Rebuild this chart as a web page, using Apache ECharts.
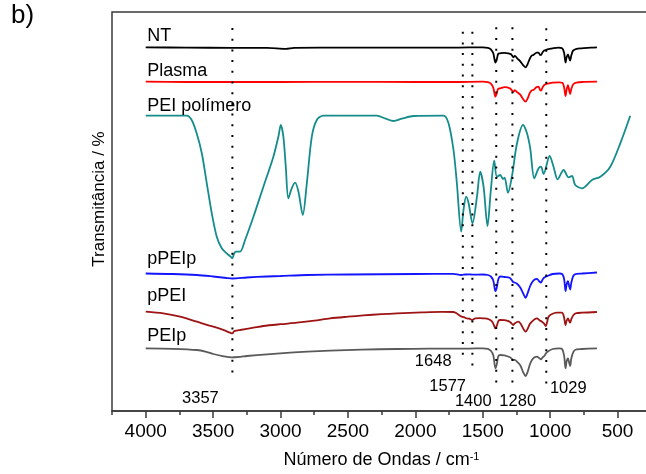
<!DOCTYPE html>
<html><head><meta charset="utf-8">
<script src="https://cdn.jsdelivr.net/npm/echarts@6/dist/echarts.min.js"></script>
<style>html,body{margin:0;padding:0;background:#fff}#c{width:646px;height:474px}</style>
</head><body><div id="c"></div>
<script>
// ---- data (wavenumber cm-1, downward deviation of each trace from its own baseline, arbitrary units) ----
const seriesNames = ['NT', 'Plasma', 'PEI polímero', 'pPEIp', 'pPEI', 'PEIp'];
const seriesOffsets = [363.7, 329.3, 295.3, 137.5, 99.3, 62.7];

const ntDip = [[4000,0],[3700,0.3],[3357,0.5],[3100,0.5],[2960,1.5],[2900,0.5],[2500,0.3],[2000,0.3],[1700,0.3],[1500,0],[1462,0.5],[1440,2],[1422,6],[1406,15.3],[1396,12],[1385,6.5],[1370,6],[1340,5.5],[1310,6],[1290,7],[1272,10],[1262,8.5],[1245,11],[1222,14],[1200,18],[1183,20],[1168,17],[1150,11],[1135,8],[1124,7.7],[1100,5.3],[1087,5.3],[1076,7.5],[1068,7.7],[1056,5],[1044,3.3],[1020,2],[982,1],[940,0.3],[910,1],[896,6],[886,15.3],[878,10],[868,7],[860,10.5],[852,13.3],[843,8],[830,3.3],[805,1.5],[764,1],[700,0.3],[653,0]];

const plasmaDip = [[4000,0],[3700,0.3],[3357,0.3],[3000,0.3],[2500,0.2],[2000,0.3],[1700,0.3],[1500,0],[1462,0.5],[1440,2],[1422,6],[1406,15],[1396,11.5],[1385,7],[1370,6.7],[1340,5.5],[1298,6.7],[1272,10],[1262,8.5],[1245,10.5],[1222,13],[1200,17.5],[1183,20],[1168,17],[1150,11],[1135,8.5],[1124,8.3],[1100,5.3],[1087,5],[1076,8],[1068,9],[1056,5.5],[1044,3.3],[1020,2],[982,1],[933,0.7],[910,1],[896,6],[886,14.3],[878,8],[868,3.5],[860,8],[852,12.3],[843,7],[827,2.3],[805,1],[764,0.3],[653,0]];

const peiPolimeroDip = [[4000,0],[3696,0],[3659,4.3],[3622,17.6],[3584,37.6],[3547,67.6],[3510,97.6],[3473,121],[3436,132.6],[3399,137.6],[3370,141],[3357,142.6],[3345,138],[3330,136],[3300,136],[3263,124.3],[3201,101],[3127,71],[3053,41],[3016,21],[2998,9.3],[2979,21],[2961,51],[2942,82.6],[2917,72.6],[2892,67],[2867,76],[2835,99.3],[2805,67.6],[2768,21],[2731,4.3],[2682,0],[2286,0],[2220,3],[2162,5.3],[2100,3],[2014,0.3],[1791,0],[1754,7.6],[1717,34.3],[1692,67.6],[1660,116],[1643,94.3],[1623,81],[1605,87.6],[1576,107.6],[1543,81],[1519,56],[1494,71],[1465,110.3],[1440,74.3],[1415,45],[1395,61],[1370,59.3],[1350,63.3],[1338,62],[1313,77],[1284,61],[1246,27.6],[1202,9.3],[1172,17.6],[1148,32.6],[1118,62.6],[1086,52.6],[1068,51],[1049,58.3],[1004,40.3],[975,51],[945,63.6],[900,54.3],[864,61.6],[838,60.3],[814,69.3],[764,72.6],[690,64.3],[628,61],[554,51],[480,27.6],[406,0]];

const pPEIpDip = [[4000,0],[3800,0.5],[3620,1.5],[3500,3],[3400,4.5],[3357,5],[3250,4],[3100,3],[3000,2.5],[2800,1.5],[2500,1],[2000,0.5],[1720,0.3],[1660,1.5],[1630,1],[1600,0.8],[1577,1.2],[1500,1],[1462,1.5],[1440,3],[1422,7],[1406,17.7],[1396,14],[1385,6],[1370,3],[1340,3.5],[1298,4.5],[1275,8.5],[1265,9],[1248,10],[1222,14],[1200,20],[1183,24.3],[1168,20],[1150,13],[1135,9],[1115,6],[1098,5.4],[1080,8],[1069,9],[1056,6],[1044,4],[1020,2.5],[982,0.5],[933,0],[910,0.7],[896,6],[886,17.7],[878,11],[868,7.7],[860,12],[852,16],[843,9],[827,2],[805,0.3],[764,0],[653,-1]];

const pPEIDip = [[4000,0],[3870,1.7],[3745,5],[3621,10],[3498,15],[3420,18.5],[3374,21],[3357,21.7],[3345,19.5],[3320,18.7],[3300,18.3],[3200,16],[3127,14.3],[3000,12.5],[2879,11],[2750,9],[2632,6.7],[2500,5],[2385,3.7],[2250,2.5],[2137,1.7],[1950,0.7],[1800,0.2],[1717,0.3],[1690,2],[1667,4.3],[1640,5.5],[1618,6.7],[1600,7],[1580,8.3],[1556,6.7],[1520,6.5],[1494,6.7],[1470,7],[1445,8.3],[1425,11],[1406,16.7],[1396,14],[1383,9],[1370,8.3],[1340,8.5],[1321,9],[1295,10.5],[1275,13.3],[1262,11.5],[1235,10],[1215,13],[1195,18],[1182,20],[1165,16.5],[1150,12],[1135,10],[1115,7.5],[1098,6.7],[1080,8.5],[1061,10],[1045,12],[1033,14.3],[1022,10],[1012,5],[990,2.5],[950,1],[913,1],[898,5],[886,13.3],[878,9],[868,6.7],[860,9],[852,11],[842,7],[827,3.3],[805,1.5],[764,1],[653,0.3]];

const PEIpDip = [[4000,0],[3800,0.5],[3621,1.7],[3550,3.5],[3498,5.7],[3420,8],[3362,9],[3300,8.5],[3250,7.7],[3100,6],[3003,5],[2800,3.3],[2632,2.3],[2400,1.3],[2137,0.7],[1900,0.4],[1692,0.3],[1600,0.3],[1500,0],[1462,0.5],[1440,2.5],[1422,7],[1406,20],[1396,16],[1385,8],[1370,6.7],[1340,7],[1298,9],[1272,11.7],[1262,11.5],[1247,13.3],[1222,17],[1200,24],[1183,27.7],[1168,24],[1150,16],[1135,11.7],[1115,9],[1098,8.3],[1080,10],[1069,11],[1056,9],[1044,7.7],[1025,4],[982,0.7],[933,0],[910,1],[896,8],[886,20],[878,13],[868,10],[860,14],[852,17.7],[843,10],[827,3.3],[805,1],[764,0.7],[653,0]];

const peakWavenumbers = [3357, 1648, 1577, 1400, 1280, 1029];
const peakLineTop = [383, 379.3, 379.3, 383.7, 383.7, 382.7];
const peakLineBottom = [33, 49.3, 41, 23, 23, 24.3];

const xTickValues = [500, 1000, 1500, 2000, 2500, 3000, 3500, 4000];

// ---- styling ----
const FONT = '"Liberation Sans", Arial, sans-serif';
const TXT = '#000';
const AX = '#3a3a3a';
const traceStyle = [
  { color: '#000000', lift: 2.5 },
  { color: '#ff0000', lift: 1.5 },
  { color: '#148c8c', lift: 1 },
  { color: '#1414ff', lift: 5.5 },
  { color: '#9e1414', lift: 6.5 },
  { color: '#5a5a5a', lift: 3.5 }
];
const peakLabelOffsets = [[-32, 20], [-29.6, 0], [-24.7, 16.5], [-23, 13.5], [5.3, 13.5], [22, 1.3]];

const dips = [ntDip, plasmaDip, peiPolimeroDip, pPEIpDip, pPEIDip, PEIpDip];

const series = [];
dips.forEach((d, i) => {
  series.push({
    type: 'line', name: seriesNames[i],
    data: d.map(p => [p[0], seriesOffsets[i] - p[1]]),
    showSymbol: false, symbol: 'none', smooth: 0.3,
    lineStyle: { color: traceStyle[i].color, width: 1.8 },
    itemStyle: { color: traceStyle[i].color },
    silent: true, z: 3
  });
});
peakWavenumbers.forEach((w, i) => {
  series.push({
    type: 'line', data: [[w, peakLineTop[i]], [w, peakLineBottom[i]]],
    showSymbol: false, symbol: 'none', silent: true, z: 4,
    lineStyle: { color: '#000', width: 2, type: [2, 8.7] }
  });
});
const labelText = { fontFamily: FONT, color: TXT, textBorderWidth: 0, textBorderColor: 'transparent', textShadowBlur: 0, opacity: 1 };
series.push({
  type: 'scatter', symbolSize: 0, silent: true, z: 5, itemStyle: { color: '#000', opacity: 1 },
  data: seriesNames.map((n, i) => ({ value: [4000, seriesOffsets[i]], name: n, label: { distance: traceStyle[i].lift } })),
  label: Object.assign({ show: true, position: 'top', align: 'left', offset: [1.5, 0], formatter: p => p.name, fontSize: 18 }, labelText)
});
series.push({
  type: 'scatter', symbolSize: 0, silent: true, z: 5, itemStyle: { color: '#000', opacity: 1 },
  data: peakWavenumbers.map((w, i) => ({ value: [w, peakLineBottom[i]], label: { offset: peakLabelOffsets[i] } })),
  label: Object.assign({ show: true, position: 'inside', formatter: p => String(p.value[0]), fontSize: 16.5 }, labelText)
});

const chart = echarts.init(document.getElementById('c'));
chart.setOption({
  animation: false,
  backgroundColor: '#fff',
  title: { text: 'b)', left: 11, top: 3, padding: 0, textStyle: { fontSize: 26, fontWeight: 'normal', color: TXT, fontFamily: FONT } },
  grid: { left: 112, right: -39, top: 12, bottom: 63, show: true, borderColor: AX, borderWidth: 1.5, containLabel: false, outerBoundsMode: 'none' },
  xAxis: [{
    type: 'value', min: 0, max: 4250, interval: 500, inverse: true,
    axisLine: { show: true, lineStyle: { color: AX, width: 1.5 } },
    axisTick: { show: true, length: 7, customValues: xTickValues, lineStyle: { color: AX, width: 1.5 } },
    axisLabel: { show: true, customValues: xTickValues, formatter: v => String(v), fontSize: 19, color: TXT, fontFamily: FONT, margin: 11 },
    splitLine: { show: false },
    name: '{a|Número de Ondas / cm}{b|-1}', nameLocation: 'middle', nameGap: 40,
    nameTextStyle: { fontSize: 18, color: TXT, fontFamily: FONT, padding: [0, 34, 0, 0],
      rich: { a: { fontSize: 18, color: TXT, fontFamily: FONT }, b: { fontSize: 11, color: TXT, fontFamily: FONT, verticalAlign: 'top' } } }
  }, {
    type: 'value', min: 0, max: 4250, interval: 250, inverse: true, position: 'bottom', gridIndex: 0,
    axisLine: { show: false }, axisLabel: { show: false }, splitLine: { show: false },
    axisTick: { show: true, length: 4, lineStyle: { color: AX, width: 1.5 } }
  }],
  yAxis: { type: 'value', min: 0, max: 399, axisLine: { show: false }, axisTick: { show: false }, axisLabel: { show: false }, splitLine: { show: false } },
  graphic: [{
    type: 'text', x: 99, y: 199, rotation: Math.PI / 2,
    style: { text: 'Transmitância / %', fontSize: 17, fontFamily: FONT, fill: TXT, align: 'center', verticalAlign: 'middle' }
  }],
  series: series
});
</script></body></html>
